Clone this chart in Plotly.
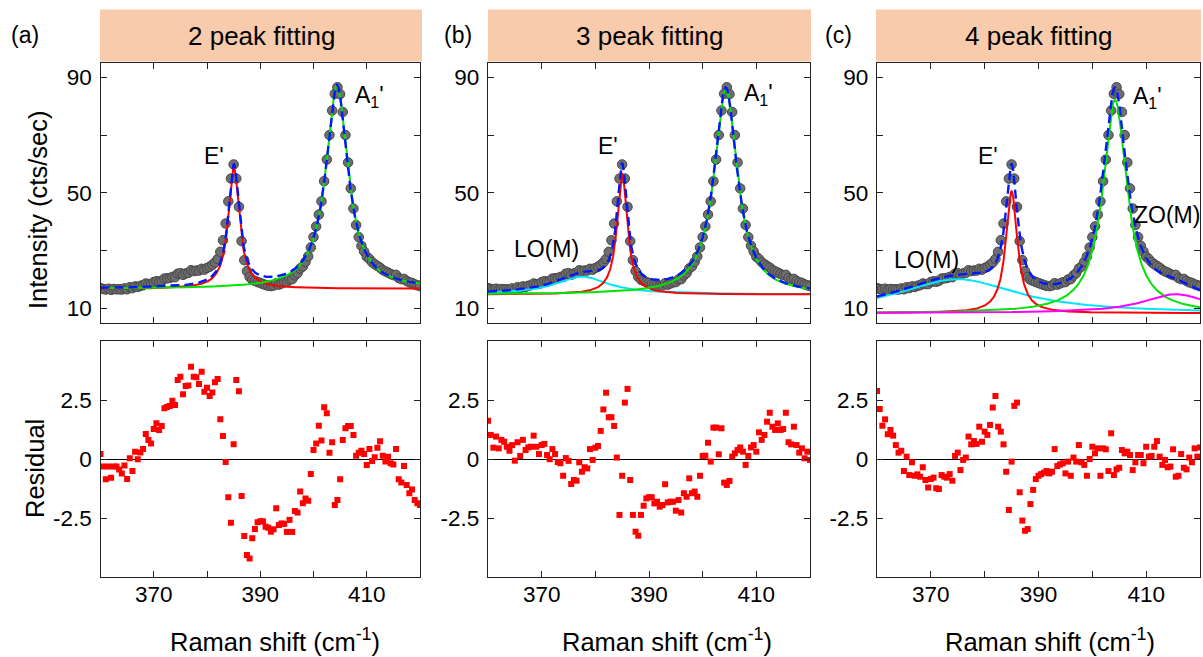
import numpy as np
import plotly.graph_objects as go

# ---------------- data ----------------
x_start = 360.0
x_step = 0.5

intensity = [
    16.9, 16.6, 16.4, 16.7, 16.3, 16.6, 16.5, 16.5, 16.4, 16.8,
    16.5, 17.2, 16.9, 17.5, 17.3, 17.7, 17.9, 18.5, 18.3, 18.3,
    19.0, 19.3, 19.1, 19.4, 20.2, 20.3, 20.4, 20.8, 20.7, 21.9,
    22.1, 21.5, 22.0, 22.2, 23.1, 22.8, 23.0, 23.0, 23.6, 23.3,
    23.9, 24.3, 25.0, 25.8, 27.0, 29.5, 33.5, 39.3, 47.0, 54.9,
    59.8, 54.9, 45.1, 33.2, 26.6, 22.8, 20.8, 19.8, 19.4, 19.0,
    18.7, 18.3, 18.0, 17.7, 17.6, 17.8, 18.6, 18.1, 18.5, 18.9,
    19.0, 19.9, 20.0, 21.3, 22.1, 23.7, 24.4, 26.0, 27.9, 31.0,
    34.6, 38.3, 42.4, 47.0, 54.0, 61.5, 70.0, 78.5, 84.3, 86.6,
    84.2, 78.0, 70.0, 60.5, 51.5, 44.5, 38.8, 34.6, 31.6, 29.6,
    27.8, 27.0, 25.9, 25.2, 24.6, 24.0, 23.2, 22.7, 22.3, 21.8,
    21.4, 21.5, 20.4, 20.0, 20.1, 19.4, 18.9, 18.7, 18.2, 17.9,
    17.6]

res_a = [
    0.21, -0.32, -0.86, -0.32, -0.79, -0.32, -0.32, -0.44, -0.61, -0.28,
    -0.85, 0.03, -0.51, 0.31, -0.01, 0.28, 0.42, 1.06, 0.81, 0.66,
    1.27, 1.51, 1.23, 1.40, 2.15, 2.20, 2.25, 2.47, 2.29, 3.35,
    3.49, 2.74, 3.09, 3.11, 3.91, 3.49, 3.46, 3.18, 3.70, 2.85,
    3.02, 2.67, 2.82, 3.25, 3.39, 1.68, 0.97, -0.13, -1.62, -2.70,
    0.62, 3.35, 2.87, -1.57, -3.26, -4.07, -4.22, -3.36, -2.97, -2.68,
    -2.64, -2.64, -2.87, -2.91, -3.08, -2.98, -2.09, -2.80, -2.73, -2.75,
    -3.09, -2.58, -3.09, -2.20, -2.27, -1.38, -1.88, -1.67, -1.77, -0.64,
    0.38, 0.66, 1.41, 0.78, 2.19, 1.94, 0.27, 0.71, -1.95, -1.74,
    -0.86, 0.81, 1.30, 1.40, 1.40, 1.02, 0.14, 0.27, 0.35, 0.21,
    -0.25, 0.42, -0.08, 0.07, 0.48, 0.75, 0.14, -0.11, 0.10, -0.18,
    -0.23, 0.42, -0.86, -1.00, -0.30, -1.10, -1.45, -1.29, -1.74, -1.88,
    -1.95]

res_b = [
    1.62, 1.02, 0.48, 0.95, 0.45, 0.81, 0.73, 0.52, 0.35, 0.59,
    -0.07, 0.71, 0.13, 0.81, 0.38, 0.49, 0.52, 0.99, 0.52, 0.21,
    0.59, 0.64, 0.17, -0.01, 0.42, 0.21, -0.13, -0.18, -0.71, 0.04,
    -0.08, -1.06, -0.89, -0.92, -0.14, -0.54, -0.35, -0.40, 0.42, -0.04,
    0.48, 0.55, 1.19, 2.10, 2.81, 1.77, 1.77, 1.40, 0.06, -2.37,
    -0.71, 2.39, 2.97, -0.89, -2.37, -3.08, -3.25, -2.37, -1.98, -1.67,
    -1.62, -1.62, -1.88, -1.81, -2.02, -1.95, -1.07, -1.84, -1.81, -1.81,
    -2.19, -1.74, -2.27, -1.45, -1.60, -0.82, -1.45, -1.38, -1.60, -0.71,
    0.13, 0.14, 0.69, -0.11, 1.33, 1.33, 0.20, 1.30, -1.00, -1.10,
    -0.93, 0.10, 0.24, 0.38, 0.49, 0.31, -0.25, 0.13, 0.49, 0.59,
    0.31, 1.13, 0.81, 1.02, 1.58, 1.96, 1.37, 1.23, 1.51, 1.23,
    1.27, 1.96, 0.71, 0.62, 1.37, 0.59, 0.27, 0.45, 0.03, 0.31,
    -0.04]

res_c = [
    2.88, 2.12, 1.41, 1.68, 1.05, 1.23, 0.99, 0.59, 0.27, 0.35,
    -0.51, 0.10, -0.68, -0.14, -0.71, -0.65, -0.75, -0.35, -0.89, -1.21,
    -0.85, -0.79, -1.24, -1.27, -0.68, -0.75, -0.79, -0.64, -0.92, 0.13,
    0.27, -0.47, -0.04, 0.06, 0.95, 0.62, 0.76, 0.64, 1.37, 0.73,
    1.16, 1.02, 1.44, 2.18, 2.67, 1.37, 1.16, 0.62, -0.54, -2.16,
    -0.11, 2.25, 2.39, -1.41, -2.61, -3.04, -2.97, -1.91, -1.31, -0.85,
    -0.71, -0.64, -0.58, -0.51, -0.61, -0.54, 0.42, -0.30, -0.23, -0.18,
    -0.61, -0.11, -0.71, 0.06, -0.11, 0.59, -0.14, -0.25, -0.71, 0.00,
    0.52, 0.24, 0.45, -0.71, 0.45, 0.41, -0.51, 1.09, -0.68, -0.44,
    -0.37, 0.38, 0.24, 0.31, 0.17, -0.47, -0.14, 0.17, 0.17, -0.18,
    0.52, 0.10, 0.13, 0.52, 0.76, 0.10, -0.25, -0.04, -0.35, -0.32,
    0.41, -0.75, -0.71, 0.21, -0.37, -0.44, 0.06, -0.14, 0.45, 0.10,
    0.49]

# Fitted Lorentzian components (offset, centers, HWHM, amplitudes)
offset_a = 16.7
center_a = [385.05, 404.4]
hwhm_a = [1.25, 2.5]
amp_a = [42.0, 70.5]

offset_b = 14.7
center_b = [377.5, 385.0, 404.3]
hwhm_b = [6.0, 1.15, 2.6]
amp_b = [6.2, 41.8, 71.4]

offset_c = 8.2
center_c = [375.0, 385.0, 404.2, 415.5]
hwhm_c = [13.5, 1.3, 2.7, 7.5]
amp_c = [11.8, 42.3, 74.0, 6.6]

panel_titles = ["2 peak fitting", "3 peak fitting", "4 peak fitting"]
panel_tags = ["(a)", "(b)", "(c)"]
x_ticks = [370, 390, 410]
x_minor_step = 10
y_ticks = [10, 50, 90]
y_minor_step = 20
r_ticks = [-2.5, 0, 2.5]
r_ticktext = ["-2.5", "0", "2.5"]

# peak labels: (text, x, y)
labels_a = [("E'", 381.3, 62.7), ("A<sub>1</sub>'", 410.6, 83.5)]
labels_b = [("LO(M)", 370.9, 30.3), ("E'", 382.4, 66.2), ("A<sub>1</sub>'", 410.4, 84.0)]
labels_c = [("LO(M)", 369.2, 26.7), ("E'", 380.6, 62.6), ("A<sub>1</sub>'", 410.2, 83.0), ("ZO(M)", 413.9, 42.3)]

# ---------------- styling ----------------
FONT = "Liberation Sans, Arial, sans-serif"
RED, GREEN, CYAN, MAGENTA, BLUE = "#FF0000", "#00E400", "#00E6FF", "#FF00FF", "#0018FF"
W, H = 1203, 657


def fx(px):
    return px / W


def fy(py):
    return 1 - py / H


raman = x_start + x_step * np.arange(len(intensity))
xf = np.linspace(360, 420, 1201)


def lor(x, c, w, a):
    return a / (1 + ((x - c) / w) ** 2)


panels = [
    dict(off=offset_a, c=center_a, w=hwhm_a, a=amp_a, col=[RED, GREEN], res=res_a, lab=labels_a),
    dict(off=offset_b, c=center_b, w=hwhm_b, a=amp_b, col=[CYAN, RED, GREEN], res=res_b, lab=labels_b),
    dict(off=offset_c, c=center_c, w=hwhm_c, a=amp_c, col=[CYAN, RED, GREEN, MAGENTA], res=res_c, lab=labels_c),
]

col_px = [(100.5, 420), (488, 810), (877, 1200)]
head_px = [(100, 422), (488, 811), (876, 1201)]
tag_px = [25, 458, 838]
xtitle_px = [275, 667, 1050]
top_px = (63, 323)
bot_px = (341, 577)

fig = go.Figure()
layout = {}
annotations = []
shapes = []

TICKC = "#222222"
axis_common = dict(showline=True, linecolor=TICKC, linewidth=1.3, mirror="ticks",
                   ticks="inside", ticklen=6, tickwidth=1.2, tickcolor=TICKC,
                   showgrid=False, zeroline=False,
                   tickfont=dict(family=FONT, size=22.5, color="black"))


def minor(t0, dt):
    return dict(ticks="inside", ticklen=6, tickwidth=1.2, tickcolor=TICKC,
                tick0=t0, dtick=dt, showgrid=False)


for i, p in enumerate(panels):
    kt = i + 1
    kb = i + 4
    st = "" if kt == 1 else str(kt)
    sb = str(kb)

    # top: data points
    fig.add_trace(go.Scatter(x=raman, y=intensity, mode="markers",
                             marker=dict(size=9.5, color="#6E6E6E", line=dict(color="#474747", width=1)),
                             xaxis="x" + st, yaxis="y" + st, showlegend=False, cliponaxis=True))
    total = np.full_like(xf, p["off"])
    for c, w, a, colr in zip(p["c"], p["w"], p["a"], p["col"]):
        comp = lor(xf, c, w, a)
        total = total + comp
        fig.add_trace(go.Scatter(x=xf, y=p["off"] + comp, mode="lines",
                                 line=dict(color=colr, width=2),
                                 xaxis="x" + st, yaxis="y" + st, showlegend=False))
    fig.add_trace(go.Scatter(x=xf, y=total, mode="lines",
                             line=dict(color=BLUE, width=2.4, dash="9px,5px"),
                             xaxis="x" + st, yaxis="y" + st, showlegend=False))

    # bottom: residuals
    fig.add_trace(go.Scatter(x=raman, y=p["res"], mode="markers",
                             marker=dict(symbol="square", size=6, color=RED),
                             xaxis="x" + sb, yaxis="y" + sb, showlegend=False))

    xd = [fx(col_px[i][0]), fx(col_px[i][1])]
    layout["xaxis" + st] = dict(axis_common, domain=xd, range=[360, 420], anchor="y" + st,
                                tickvals=x_ticks, showticklabels=False,
                                minor=minor(360, x_minor_step))
    layout["yaxis" + st] = dict(axis_common, domain=[fy(top_px[1]), fy(top_px[0])], range=[4.8, 95.0],
                                anchor="x" + st, tickvals=y_ticks, ticklabelstandoff=3,
                                minor=minor(10, y_minor_step))
    layout["xaxis" + sb] = dict(axis_common, domain=xd, range=[360, 420], anchor="y" + sb,
                                tickvals=x_ticks, ticklabelstandoff=-3,
                                minor=minor(360, x_minor_step))
    layout["yaxis" + sb] = dict(axis_common, domain=[fy(bot_px[1]), fy(bot_px[0])], range=[-5, 5],
                                anchor="x" + sb, tickvals=r_ticks, ticktext=r_ticktext,
                                zeroline=True, zerolinecolor="black", zerolinewidth=1.2,
                                ticklabelstandoff=3)

    # header box
    shapes.append(dict(type="rect", xref="paper", yref="paper",
                       x0=fx(head_px[i][0]), x1=fx(head_px[i][1]), y0=fy(61.5), y1=fy(9.5),
                       fillcolor="#F8CBAD", line=dict(width=0), layer="below"))
    annotations.append(dict(text=panel_titles[i], xref="paper", yref="paper",
                            x=fx((head_px[i][0] + head_px[i][1]) / 2), y=fy(36),
                            xanchor="center", yanchor="middle", showarrow=False,
                            font=dict(family=FONT, size=26, color="black")))
    annotations.append(dict(text=panel_tags[i], xref="paper", yref="paper",
                            x=fx(tag_px[i]), y=fy(35), xanchor="center", yanchor="middle",
                            showarrow=False, font=dict(family=FONT, size=23, color="black")))
    annotations.append(dict(text="Raman shift (cm<sup>-1</sup>)", xref="paper", yref="paper",
                            x=fx(xtitle_px[i]), y=fy(640), xanchor="center", yanchor="middle",
                            showarrow=False, font=dict(family=FONT, size=25.5, color="black")))
    for (t, lx, ly) in p["lab"]:
        annotations.append(dict(text=t, xref="x" + st, yref="y" + st, x=lx, y=ly,
                                xanchor="center", yanchor="middle", showarrow=False,
                                font=dict(family=FONT, size=23, color="black")))

annotations.append(dict(text="Intensity (cts/sec)", xref="paper", yref="paper",
                        x=fx(38), y=fy(210), xanchor="center", yanchor="middle", textangle=-90,
                        showarrow=False, font=dict(family=FONT, size=25.5, color="black")))
annotations.append(dict(text="Residual", xref="paper", yref="paper",
                        x=fx(35), y=fy(469), xanchor="center", yanchor="middle", textangle=-90,
                        showarrow=False, font=dict(family=FONT, size=25.5, color="black")))

fig.update_layout(**layout)
fig.update_layout(width=W, height=H, margin=dict(l=0, r=0, t=0, b=0),
                  paper_bgcolor="white", plot_bgcolor="white",
                  annotations=annotations, shapes=shapes,
                  font=dict(family=FONT, color="black"))

fig.write_html("out.html")
